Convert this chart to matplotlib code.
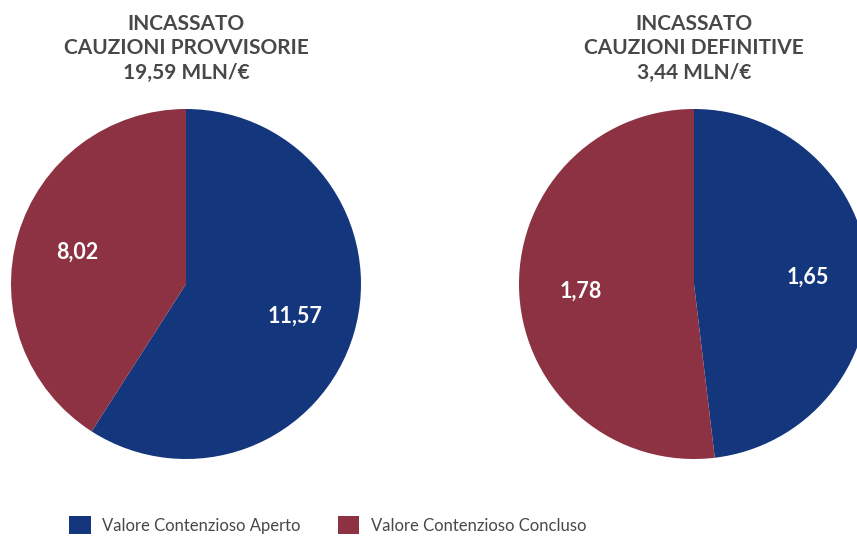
import matplotlib.pyplot as plt

plt.rcParams['font.family'] = ['Lato', 'DejaVu Sans']

series = ["Valore Contenzioso Aperto", "Valore Contenzioso Concluso"]
colors = ["#14367d", "#8c3242"]

titles = ["INCASSATO\nCAUZIONI PROVVISORIE\n19,59 MLN/€",
          "INCASSATO\nCAUZIONI DEFINITIVE\n3,44 MLN/€"]
provvisorie = [11.57, 8.02]
definitive = [1.65, 1.78]

W, H = 857, 539
fig = plt.figure(figsize=(W / 100, H / 100), dpi=100)

def pie_axes(cx, cy, r):
    # cx, cy, r in pixels, cy measured from the top
    return fig.add_axes([(cx - r) / W, (H - cy - r) / H, 2 * r / W, 2 * r / H])

def fmt(vals):
    total = sum(vals)
    return lambda p: f"{p * total / 100:.2f}".replace(".", ",")

wedges = None
for (cx, title, vals) in [(186, titles[0], provvisorie), (694, titles[1], definitive)]:
    ax = pie_axes(cx, 284, 175)
    w, _, autotexts = ax.pie(vals, colors=colors, startangle=90, counterclock=False,
                             autopct=fmt(vals), pctdistance=0.65, radius=1)
    for t in autotexts:
        t.set_color("white")
        t.set_fontsize(15.5)
        t.set_fontweight("bold")
    ax.set_xlim(-1, 1)
    ax.set_ylim(-1, 1)
    ax.set_aspect("equal")
    ax.axis("off")
    fig.text(cx / W, 1 - 14 / H, title, ha="center", va="top", fontsize=15,
             fontweight="bold", color="#484848", linespacing=1.28)
    wedges = w

fig.legend(wedges, series, loc="center left", bbox_to_anchor=(54 / W, 1 - 525 / H),
           ncol=2, frameon=False, fontsize=12, handlelength=1.3, handleheight=1.3,
           handletextpad=0.7, columnspacing=2.2, labelcolor="#484848")

fig.savefig("out.png", dpi=100)
